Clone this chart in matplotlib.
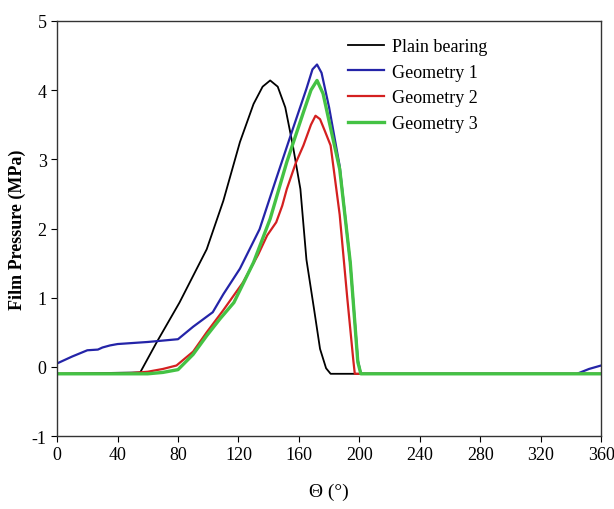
import numpy as np
import matplotlib.pyplot as plt

plt.rcParams['font.family'] = ['Liberation Serif', 'DejaVu Serif']
plt.rcParams['axes.unicode_minus'] = False

# 数据
plain_x = [0, 55, 66, 81, 99, 110, 121, 130, 136, 141, 146, 151, 156, 161, 165, 170, 174, 178, 181, 360]
plain_y = [-0.1, -0.08, 0.36, 0.93, 1.70, 2.40, 3.25, 3.80, 4.05, 4.14, 4.05, 3.75, 3.20, 2.57, 1.55, 0.84, 0.26, -0.02, -0.1, -0.1]

geo1_x = [0, 10, 20, 27, 30, 35, 40, 60, 80, 90, 103, 110, 121, 134, 145, 156, 165, 169, 172, 175, 180, 187, 194, 199, 201, 344, 352, 360]
geo1_y = [0.05, 0.15, 0.24, 0.25, 0.28, 0.31, 0.33, 0.36, 0.40, 0.58, 0.79, 1.05, 1.42, 1.99, 2.72, 3.44, 4.02, 4.30, 4.37, 4.25, 3.75, 2.90, 1.50, 0.10, -0.1, -0.1, -0.03, 0.02]

geo2_x = [0, 44, 60, 70, 79, 90, 99, 110, 123, 133, 139, 145, 149, 152, 158, 163, 168, 171, 174, 177, 181, 187, 192, 196, 197, 360]
geo2_y = [-0.1, -0.1, -0.07, -0.03, 0.02, 0.22, 0.50, 0.82, 1.22, 1.62, 1.90, 2.09, 2.33, 2.57, 2.95, 3.20, 3.50, 3.63, 3.58, 3.42, 3.20, 2.20, 1.00, 0.1, -0.1, -0.1]

geo3_x = [0, 60, 70, 80, 90, 99, 108, 117, 130, 141, 152, 163, 168, 172, 176, 181, 187, 194, 199, 201, 360]
geo3_y = [-0.1, -0.1, -0.08, -0.04, 0.18, 0.45, 0.70, 0.93, 1.51, 2.14, 2.96, 3.68, 4.00, 4.14, 3.95, 3.45, 2.86, 1.51, 0.07, -0.1, -0.1]

fig = plt.figure(figsize=(6.14, 5.10), dpi=100)
ax = fig.add_axes([0.093, 0.143, 0.886, 0.814])

ax.plot(plain_x, plain_y, color='black', linewidth=1.3, label='Plain bearing')
ax.plot(geo1_x, geo1_y, color='#2424a8', linewidth=1.6, label='Geometry 1')
ax.plot(geo2_x, geo2_y, color='#d42020', linewidth=1.6, label='Geometry 2')
ax.plot(geo3_x, geo3_y, color='#44c244', linewidth=2.4, label='Geometry 3')

ax.set_xlim(0, 360)
ax.set_ylim(-1, 5)
ax.set_xticks(np.arange(0, 361, 40))
ax.set_yticks(np.arange(-1, 6, 1))
ax.tick_params(direction='out', length=4, labelsize=13, top=False, right=False)
for s in ax.spines.values():
    s.set_linewidth(1.0)
    s.set_color('#333333')

ax.set_xlabel('Θ (°)', fontsize=14, labelpad=14)
ax.set_ylabel('Film Pressure (MPa)', fontsize=13, fontweight='bold', labelpad=4)

ax.legend(loc='upper left', bbox_to_anchor=(0.505, 0.998), frameon=False, fontsize=13,
          handlelength=2.0, handletextpad=0.45, labelspacing=0.48)

fig.savefig('out.png', dpi=100)
